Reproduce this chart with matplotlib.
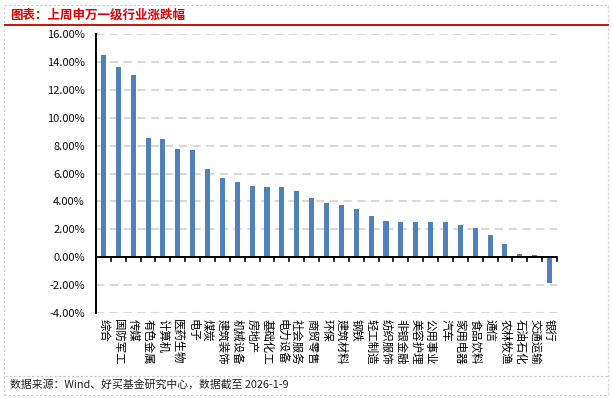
import matplotlib
matplotlib.use("Agg")
import matplotlib.pyplot as plt
from matplotlib.lines import Line2D
from matplotlib.patches import Rectangle

plt.rcParams['font.family'] = ['Noto Sans CJK SC', 'DejaVu Sans']

industries = ["综合", "国防军工", "传媒", "有色金属", "计算机", "医药生物", "电子", "煤炭",
              "建筑装饰", "机械设备", "房地产", "基础化工", "电力设备", "社会服务", "商贸零售",
              "环保", "建筑材料", "钢铁", "轻工制造", "纺织服饰", "非银金融", "美容护理",
              "公用事业", "汽车", "家用电器", "食品饮料", "通信", "农林牧渔", "石油石化",
              "交通运输", "银行"]
changes = [14.50, 13.64, 13.07, 8.57, 8.50, 7.79, 7.71, 6.29,
           5.71, 5.36, 5.07, 5.00, 5.00, 4.71, 4.21,
           3.86, 3.71, 3.43, 2.98, 2.62, 2.55, 2.55,
           2.55, 2.55, 2.34, 2.12, 1.62, 0.98, 0.26,
           0.19, -1.88]
yticks = [-4, -2, 0, 2, 4, 6, 8, 10, 12, 14, 16]

fig = plt.figure(figsize=(6.12, 3.99), dpi=100)
W, H = 612, 399

# frame, title and footer
fig.patches.append(Rectangle((4 / W, 1 - 395 / H), 604 / W, 390 / H, transform=fig.transFigure,
                             fill=False, ec="#c8c8c8", lw=0.8, ls=(0, (2, 2))))
fig.lines.append(Line2D([5 / W, 608 / W], [1 - 25 / H] * 2, transform=fig.transFigure,
                        color="#c00000", lw=1.3))
fig.lines.append(Line2D([5 / W, 608 / W], [1 - 376 / H] * 2, transform=fig.transFigure,
                        color="#c8c8c8", lw=0.8, ls=(0, (2, 2))))
fig.text(10 / W, 1 - 15 / H, "图表：上周申万一级行业涨跌幅", color="#e00000",
         fontsize=9, fontweight="bold", va="center", ha="left")
fig.text(10 / W, 1 - 384 / H, "数据来源：Wind、好买基金研究中心，数据截至 2026-1-9",
         color="#222222", fontsize=7.8, va="center", ha="left")

ax = fig.add_axes([96 / W, 1 - 313 / H, 461 / W, 279 / H])
x = range(len(industries))
ax.bar(x, changes, width=0.34, color="#4f81bd", zorder=3)

ax.set_xlim(-0.5, len(industries) - 0.5)
ax.set_ylim(-4, 16)
ax.set_yticks(yticks)
ax.set_yticklabels([f"{v:.2f}%" for v in yticks], fontsize=8, color="#111111")
ax.tick_params(axis="y", length=0, pad=8)

for s in ["top", "right", "bottom"]:
    ax.spines[s].set_visible(False)
ax.spines["left"].set_linewidth(1.4)
ax.spines["left"].set_zorder(4)

ax.yaxis.grid(True, color="#d9d9d9", lw=1.5, ls=(0, (4, 2.6)), zorder=0)
ax.axhline(0, color="black", lw=1.4, zorder=4)

# tick marks on zero line between categories
ax.set_xticks([i + 0.5 for i in range(-1, len(industries))], minor=True)
ax.tick_params(axis="x", which="minor", length=0)
for b in ax.get_xticks(minor=True):
    ax.plot([b, b], [0, -0.25], color="black", lw=1.2, zorder=4, clip_on=False)

ax.set_xticks(list(x))
ax.set_xticklabels(industries, rotation=-90, fontsize=8.2, va="top", ha="center")
ax.tick_params(axis="x", which="major", length=0, pad=4)

plt.savefig("out.png", dpi=100)
plt.close()
